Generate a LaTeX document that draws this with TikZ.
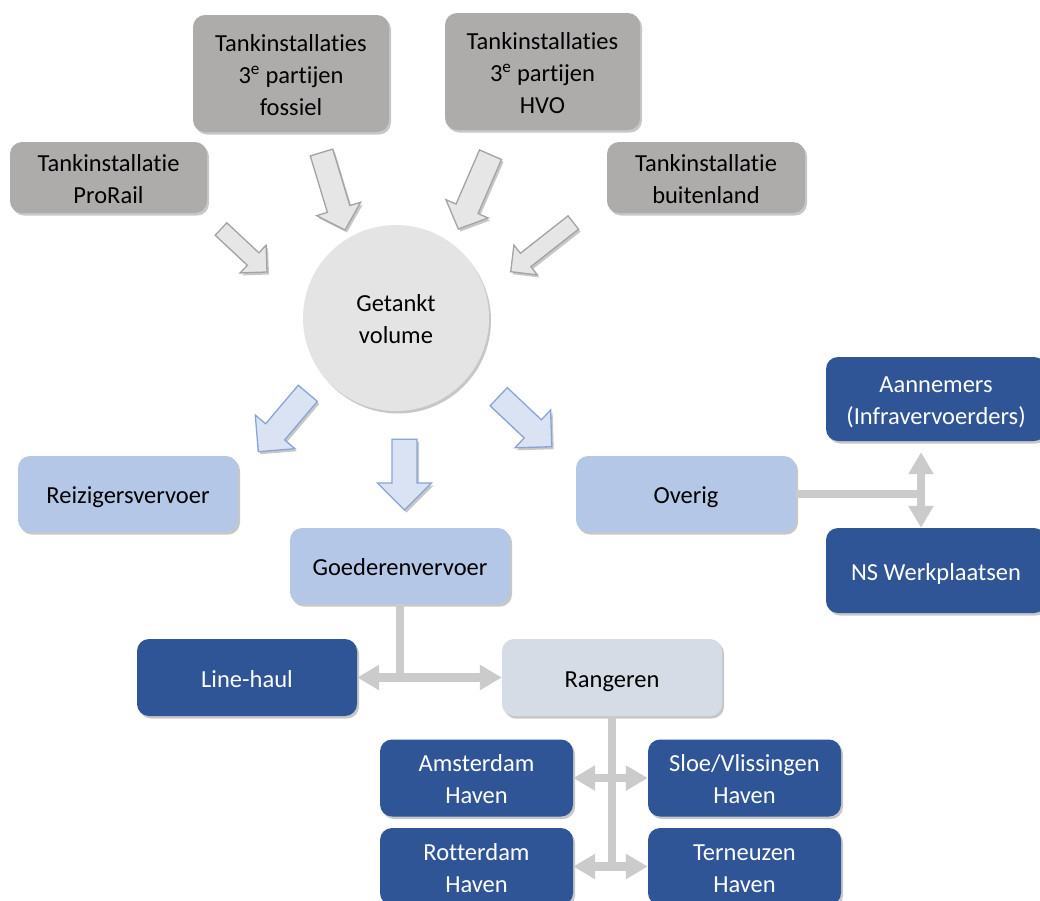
\documentclass[tikz,border=0pt]{standalone}
\usepackage{fontspec}
\setmainfont[RawFeature={-liga;-clig;-calt;-dlig}]{Carlito}
\usetikzlibrary{calc,shadows,arrows.meta}
\definecolor{gboxc}{HTML}{AEABAB}
\definecolor{circc}{HTML}{E4E4E4}
\definecolor{lblue}{HTML}{B4C7E7}
\definecolor{dblue}{HTML}{2F5597}
\definecolor{rangc}{HTML}{D6DCE5}
\definecolor{connc}{HTML}{CBCBCB}
\definecolor{garrf}{HTML}{E7E6E6}
\definecolor{garrd}{HTML}{A3A3A3}
\definecolor{barrf}{HTML}{DAE3F3}
\definecolor{barrd}{HTML}{8AA5D3}
% #1 style, #2 tail, #3 tip, #4 half shaft width, #5 half head width, #6 head length
\newcommand\blkarrow[6]{%
  \coordinate (ba-h) at ($(#3)!#6!(#2)$);
  \filldraw[#1] ($(#2)!#4!90:(#3)$) -- ($(ba-h)!#4!90:(#3)$) -- ($(ba-h)!#5!90:(#3)$)
    -- (#3) -- ($(ba-h)!#5!-90:(#3)$) -- ($(ba-h)!#4!-90:(#3)$) -- ($(#2)!#4!-90:(#3)$) -- cycle;
}
\newcommand\boxtxt[1]{\raisebox{0pt}[\dimexpr\height+7pt\relax][\depth]{\begin{tabular}{@{}c@{}}#1\end{tabular}}}
\begin{document}
\begin{tikzpicture}[x=1pt,y=-1pt,
  shd/.style={drop shadow={shadow xshift=2pt,shadow yshift=-2.5pt,opacity=.22,fill=black}},
  txt/.style={font=\fontsize{24.5}{32}\selectfont},
  box/.style={rectangle,rounded corners=12pt,inner sep=0pt,txt,shd},
  gbox/.style={box,fill=gboxc,text=black},
  lbox/.style={box,fill=lblue,text=black,minimum width=220pt,minimum height=76pt},
  dbox/.style={box,fill=dblue,text=white},
  rbox/.style={box,fill=rangc,text=black,minimum width=220pt,minimum height=77pt},
  garrow/.style={fill=garrf,draw=garrd,line width=1.3pt,line join=miter,shd},
  barrow/.style={fill=barrf,draw=barrd,line width=1.3pt,line join=miter,shd},
  conn/.style={draw=connc,line width=8.5pt},
  dbl/.style={conn,{Triangle[width=24pt,length=22pt]}-{Triangle[width=24pt,length=22pt]}}]
\useasboundingbox (0,0) rectangle (1040,900);
\clip (0,0) rectangle (1040,900);

% source boxes
\node[gbox,minimum width=196pt,minimum height=117pt] (fos) at (291,73.5)
  {\boxtxt{Tankinstallaties\\3\textsuperscript{e} partijen\\fossiel}};
\node[gbox,minimum width=195pt,minimum height=117pt] (hvo) at (542.5,71.5)
  {\boxtxt{Tankinstallaties\\3\textsuperscript{e} partijen\\HVO}};
\node[gbox,minimum width=197pt,minimum height=65pt] (pro) at (108.5,177.5)
  {\boxtxt{Tankinstallatie\\ProRail}};
\node[gbox,minimum width=198pt,minimum height=65pt] (bui) at (706,177.5)
  {\boxtxt{Tankinstallatie\\buitenland}};

% central circle
\node[circle,fill=circc,minimum size=186pt,inner sep=0pt,txt,shd] (vol) at (396,318) {\boxtxt{Getankt\\volume}};

% incoming block arrows
\coordinate (a1s) at (221,229);   \coordinate (a1e) at (267,272);
\coordinate (a2s) at (321.5,152.5); \coordinate (a2e) at (345,230);
\coordinate (a3s) at (490.5,154.7); \coordinate (a3e) at (458.3,229);
\coordinate (a4s) at (573.3,222.5); \coordinate (a4e) at (510.7,271.7);
\blkarrow{garrow}{a1s}{a1e}{8.5pt}{19pt}{19pt}
\blkarrow{garrow}{a2s}{a2e}{11.75pt}{23pt}{22pt}
\blkarrow{garrow}{a3s}{a3e}{12pt}{23pt}{22pt}
\blkarrow{garrow}{a4s}{a4e}{8.5pt}{19pt}{19pt}

% outgoing block arrows
\coordinate (b1s) at (307.8,393.3); \coordinate (b1e) at (258.3,451.7);
\coordinate (b2s) at (404.5,439.3); \coordinate (b2e) at (404.5,510);
\coordinate (b3s) at (498.7,396.7); \coordinate (b3e) at (551.7,446.7);
\blkarrow{barrow}{b1s}{b1e}{12.5pt}{26pt}{26pt}
\blkarrow{barrow}{b2s}{b2e}{12.5pt}{27pt}{27pt}
\blkarrow{barrow}{b3s}{b3e}{12.5pt}{26pt}{26pt}

% categories
\node[lbox] (rei) at (128,494) {\boxtxt{Reizigersvervoer}};
\node[lbox] (goe) at (400,566) {\boxtxt{Goederenvervoer}};
\node[lbox] (ove) at (686,494) {\boxtxt{Overig}};

\node[dbox,minimum width=220pt,minimum height=84pt] (aan) at (936,399) {\boxtxt{Aannemers\\(Infravervoerders)}};
\node[dbox,minimum width=220pt,minimum height=85pt] (nsw) at (936,570.5) {\boxtxt{NS Werkplaatsen}};

\node[dbox,minimum width=220pt,minimum height=77pt] (lin) at (247,677.5) {\boxtxt{Line-haul}};
\node[rbox] (ran) at (612,677.5) {\boxtxt{Rangeren}};

\node[dbox,minimum width=193pt,minimum height=77pt] (ams) at (476.5,778) {\boxtxt{Amsterdam\\Haven}};
\node[dbox,minimum width=193pt,minimum height=77pt] (slo) at (744.5,778) {\boxtxt{Sloe/Vlissingen\\Haven}};
\node[dbox,minimum width=193pt,minimum height=77pt] (rot) at (476.5,866.5) {\boxtxt{Rotterdam\\Haven}};
\node[dbox,minimum width=193pt,minimum height=77pt] (ter) at (744.5,866.5) {\boxtxt{Terneuzen\\Haven}};

% connectors
\coordinate (ovj) at (921,494);
\draw[conn] (ove.east) -- (ovj);
\draw[dbl] ([yshift=-11pt]aan.south -| ovj) -- (nsw.north -| ovj);

\draw[conn] (goe.south) -- (goe.south |- lin.east);
\draw[dbl] (lin.east) -- (ran.west);

\draw[conn] (ran.south) -- (ran.south |- rot.east);
\draw[dbl] (ams.east) -- (slo.west);
\draw[dbl] (rot.east) -- (ter.west);
\end{tikzpicture}
\end{document}
